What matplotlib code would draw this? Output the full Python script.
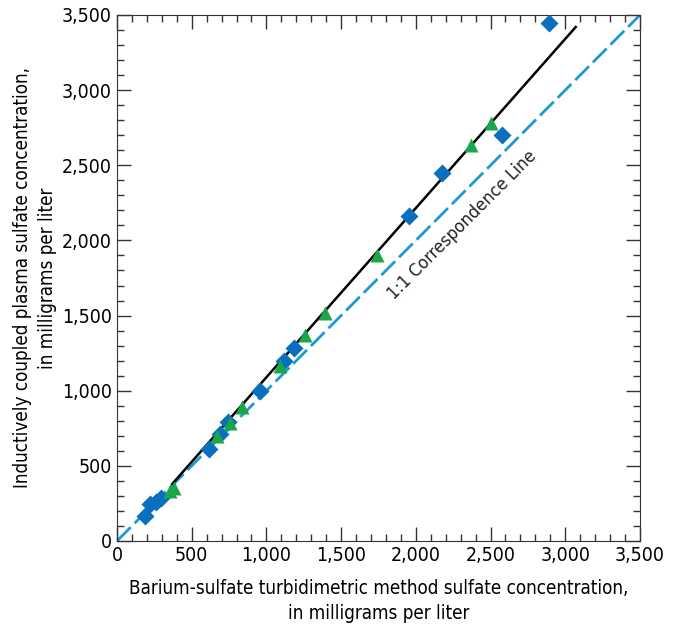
import matplotlib.pyplot as plt
from matplotlib.ticker import MultipleLocator, FuncFormatter

plt.rcParams['font.family'] = ['DejaVu Sans']
plt.rcParams['font.stretch'] = 'condensed'

# blue diamonds
blue_x = [2890, 2580, 2175, 1955, 1185, 1115, 960, 745, 690, 615, 295, 260, 220, 185]
blue_y = [3445, 2700, 2450, 2160, 1285, 1200, 1000, 795, 715, 615, 285, 262, 248, 168]

# green triangles
green_x = [2500, 2370, 1740, 1395, 1260, 1090, 840, 755, 670, 380, 355]
green_y = [2780, 2635, 1905, 1520, 1370, 1165, 890, 785, 700, 355, 335]

# regression line ends
fit_x = [370, 3070]
fit_y = [380, 3420]

# 1:1 line
one_x = [0, 3500]
one_y = [0, 3500]

fig = plt.figure(figsize=(6.75, 6.25), dpi=100)
ax = fig.add_axes([0.1733, 0.1344, 0.7748, 0.8416])

ax.plot(one_x, one_y, color='#1b9ad6', lw=2, dashes=(7, 2), zorder=1)
ax.plot(fit_x, fit_y, color='black', lw=1.8, zorder=2)
ax.plot(blue_x, blue_y, 'D', color='#0a6fbd', ms=9, mec='none', zorder=3)
ax.plot(green_x, green_y, '^', color='#1aa64a', ms=10.5, mec='none', zorder=4)

ax.text(2310, 2100, '1:1 Correspondence Line', rotation=45, rotation_mode='anchor',
        ha='center', va='center', fontsize=13, color='#222222')

ax.set_xlim(0, 3500)
ax.set_ylim(0, 3500)
ax.xaxis.set_major_locator(MultipleLocator(500))
ax.yaxis.set_major_locator(MultipleLocator(500))
ax.xaxis.set_minor_locator(MultipleLocator(100))
ax.yaxis.set_minor_locator(MultipleLocator(100))
fmt = FuncFormatter(lambda v, p: f'{int(v):,}')
ax.xaxis.set_major_formatter(fmt)
ax.yaxis.set_major_formatter(fmt)
ax.tick_params(which='both', direction='in', top=True, right=True, labelsize=14, color='#333333')
ax.tick_params(which='major', length=10, width=1)
ax.tick_params(which='minor', length=5, width=1)
for s in ax.spines.values():
    s.set_color('#333333')

ax.set_xlabel('Barium-sulfate turbidimetric method sulfate concentration,\nin milligrams per liter',
              fontsize=13.5, linespacing=1.4, labelpad=10)
ax.set_ylabel('Inductively coupled plasma sulfate concentration,\nin milligrams per liter',
              fontsize=13.5, linespacing=1.4)

fig.savefig('out.png', dpi=100)
